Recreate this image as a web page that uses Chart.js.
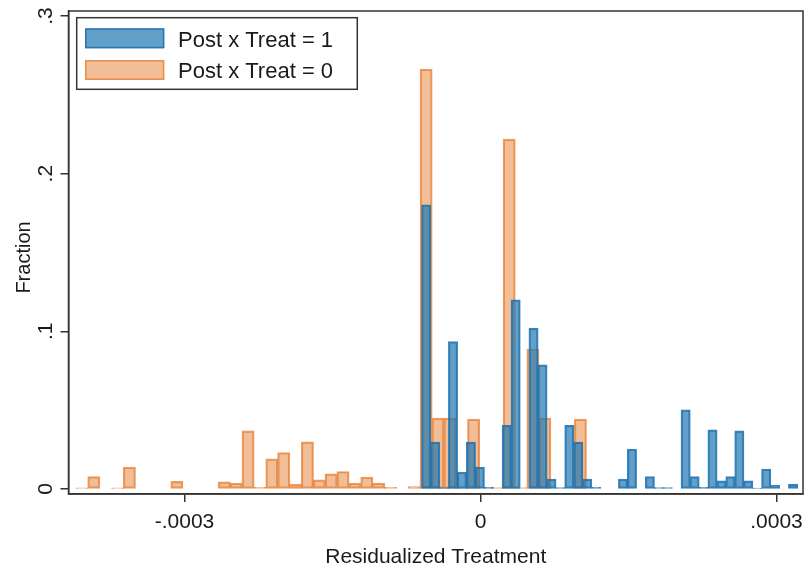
<!DOCTYPE html>
<html><head><meta charset="utf-8">
<script src="https://cdn.jsdelivr.net/npm/chart.js@4.4.1/dist/chart.umd.min.js"></script>
<style>html,body{margin:0;padding:0;background:#fff;}#wrap{width:805px;height:578px;position:relative}</style>
</head><body><div id="wrap"><canvas id="c" width="805" height="578"></canvas></div>
<script>
// ---- data ----
const seriesLabels = ['Post x Treat = 1', 'Post x Treat = 0'];
const xTitle = 'Residualized Treatment';
const yTitle = 'Fraction';
const xTickValues = [-0.0003, 0, 0.0003];
const yTickValues = [0, 0.1, 0.2, 0.3];

// histogram bins: first bin left edge and bin width (data units)
const treatBinStart = -0.0000596;
const treatBinWidth = 0.00000907;
const treatFraction = [0.1801, 0.0296, 0.0008, 0.0934, 0.0106, 0.0296, 0.0138, 0.001, 0, 0.0402,
  0.1199, 0, 0.1019, 0.0786, 0.0062, 0.0008, 0.0402, 0.0296, 0.0062, 0.001,
  0, 0, 0.0062, 0.0252, 0, 0.0078, 0.0008, 0.0008, 0, 0.0501,
  0.0078, 0.001, 0.0374, 0.0051, 0.0078, 0.0368, 0.0051, 0.0005, 0.0125, 0.0023,
  0, 0.003];

const ctrlBinStart = -0.00041;
const ctrlBinWidth = 0.00001203;
const ctrlFraction = [0.0006, 0.0077, 0, 0.0006, 0.0137, 0, 0, 0, 0.0047, 0,
  0, 0, 0.0044, 0.0036, 0.0368, 0.001, 0.019, 0.023, 0.003, 0.0298,
  0.0057, 0.0095, 0.011, 0.0036, 0.0074, 0.0036, 0.001, 0, 0.0015, 0.2662,
  0.0448, 0.0448, 0.0008, 0.0442, 0, 0.0008, 0.2218, 0.0008, 0.0886, 0.0448,
  0, 0, 0.0442];

// ---- helpers ----
function toPoints(start, width, vals) {
  return vals.map((v, i) => ({ x: start + (i + 0.5) * width, y: v === 0 ? null : v }));
}
function fmt(v) {
  if (v === 0) return '0';
  return String(v).replace('0.', '.');
}
const FONT = '"Liberation Sans", Arial, sans-serif';
const TXT = '#1a1a1a';
const AX = '#333333';
const X_MIN = -0.0004176, X_MAX = 0.0003269;

const blueFill = 'rgba(31,119,180,0.70)', blueLine = 'rgba(31,110,170,0.85)';
const orFill = 'rgba(230,126,50,0.50)', orLine = 'rgba(230,126,50,0.75)';

const overlay = {
  id: 'overlay',
  afterDraw(chart) {
    const ctx = chart.ctx, a = chart.chartArea;
    ctx.save();
    // frame
    ctx.strokeStyle = AX; ctx.lineWidth = 1.5;
    ctx.strokeRect(a.left, a.top, a.right - a.left, a.bottom - a.top);
    // y tick labels (rotated, Stata style)
    const ys = chart.scales.y;
    ctx.fillStyle = TXT;
    ctx.font = '21px ' + FONT;
    ctx.textAlign = 'center'; ctx.textBaseline = 'alphabetic';
    ys.ticks.forEach(t => {
      const py = ys.getPixelForValue(t.value);
      ctx.save(); ctx.translate(52, py); ctx.rotate(-Math.PI / 2);
      ctx.fillText(fmt(t.value), 0, 0); ctx.restore();
    });
    // y title
    ctx.save(); ctx.translate(30, 257.5); ctx.rotate(-Math.PI / 2);
    ctx.font = '20px ' + FONT;
    ctx.fillText(yTitle, 0, 0); ctx.restore();
    // legend
    const lx = 76.7, ly = 17.7, lw = 280.6, lh = 71.6;
    ctx.fillStyle = '#fff'; ctx.fillRect(lx, ly, lw, lh);
    ctx.strokeStyle = AX; ctx.lineWidth = 1.5; ctx.strokeRect(lx, ly, lw, lh);
    const ds = chart.data.datasets;
    const rows = [{ y: 28.3, base: 46.5 }, { y: 60, base: 77.5 }];
    ds.forEach((d, i) => {
      const r = rows[i];
      ctx.fillStyle = '#fff'; ctx.fillRect(85, r.y, 79.3, 20);
      ctx.fillStyle = d.backgroundColor; ctx.fillRect(85, r.y, 79.3, 20);
      ctx.strokeStyle = d.borderColor; ctx.lineWidth = 1.5;
      ctx.strokeRect(85.75, r.y + 0.75, 77.8, 18.5);
      ctx.fillStyle = TXT; ctx.font = '22px ' + FONT;
      ctx.textAlign = 'left'; ctx.textBaseline = 'alphabetic';
      ctx.fillText(d.label, 178, r.base);
    });
    ctx.restore();
  }
};

new Chart(document.getElementById('c'), {
  type: 'bar',
  data: {
    datasets: [
      { label: seriesLabels[0], data: toPoints(treatBinStart, treatBinWidth, treatFraction),
        xAxisID: 'x', backgroundColor: blueFill, borderColor: blueLine, borderWidth: 1.2,
        borderSkipped: false, inflateAmount: 0.5, barPercentage: 1, categoryPercentage: 1, grouped: false },
      { label: seriesLabels[1], data: toPoints(ctrlBinStart, ctrlBinWidth, ctrlFraction),
        xAxisID: 'x2', backgroundColor: orFill, borderColor: orLine, borderWidth: 1.2,
        borderSkipped: false, inflateAmount: 0.5, barPercentage: 1, categoryPercentage: 1, grouped: false }
    ]
  },
  options: {
    responsive: false, animation: false, devicePixelRatio: 1,
    layout: { padding: { top: 11, right: 2, left: 0, bottom: 0 } },
    plugins: { legend: { display: false }, tooltip: { enabled: false } },
    scales: {
      x: {
        type: 'linear', position: 'bottom', min: X_MIN, max: X_MAX, offset: false,
        afterBuildTicks: s => { s.ticks = xTickValues.map(v => ({ value: v })); },
        ticks: { font: { family: FONT, size: 21 }, color: TXT, padding: 8, maxRotation: 0, autoSkip: false, callback: v => fmt(v) },
        grid: { offset: false, drawOnChartArea: false, drawTicks: true, tickLength: 8, color: AX, lineWidth: 1.5 },
        border: { display: true, color: AX, width: 1.5 },
        title: { display: true, text: xTitle, font: { family: FONT, size: 21 }, color: TXT, padding: { top: 0, bottom: 8 } },
        afterFit: s => { s.height = 84; s.paddingLeft = 0; s.paddingRight = 0; }
      },
      x2: { type: 'linear', position: 'bottom', display: false, min: X_MIN, max: X_MAX, offset: false, grid: { offset: false } },
      y: {
        type: 'linear', min: -0.00317, max: 0.30317,
        afterBuildTicks: s => { s.ticks = yTickValues.map(v => ({ value: v })); },
        ticks: { display: false },
        grid: { drawOnChartArea: false, drawTicks: true, tickLength: 8, color: AX, lineWidth: 1.5 },
        border: { display: true, color: AX, width: 1.5 },
        afterFit: s => { s.width = 68.5; s.paddingTop = 0; s.paddingBottom = 0; }
      }
    }
  },
  plugins: [overlay]
});
</script></body></html>
